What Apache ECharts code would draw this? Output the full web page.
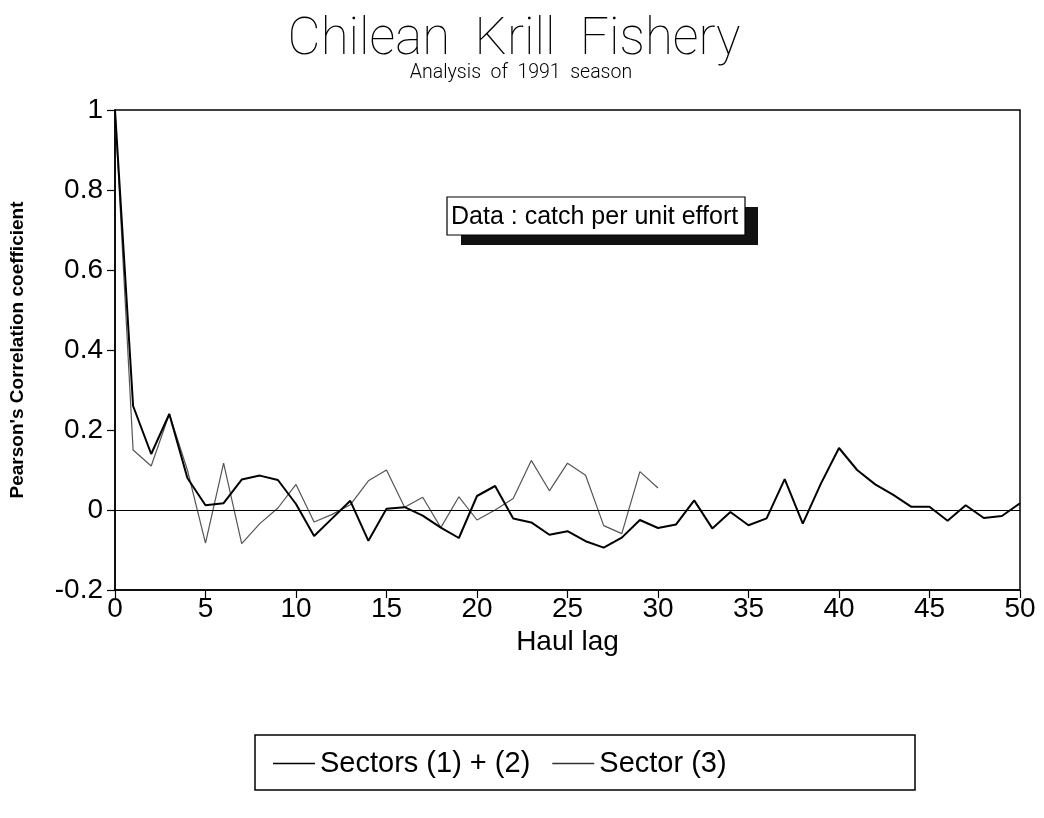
<!DOCTYPE html>
<html>
<head>
<meta charset="utf-8">
<script src="https://cdn.jsdelivr.net/npm/echarts@6/dist/echarts.min.js"></script>
<style>html,body{margin:0;padding:0;background:#fff}#c{width:1044px;height:818px}</style>
</head>
<body>
<div id="c"></div>
<script>
const lags = [0,1,2,3,4,5,6,7,8,9,10,11,12,13,14,15,16,17,18,19,20,21,22,23,24,25,26,27,28,29,30,31,32,33,34,35,36,37,38,39,40,41,42,43,44,45,46,47,48,49,50];
const sectors12 = [1.0,0.26,0.14,0.24,0.08,0.012,0.017,0.076,0.086,0.075,0.015,-0.065,-0.021,0.023,-0.077,0.003,0.007,-0.014,-0.044,-0.07,0.035,0.06,-0.021,-0.031,-0.062,-0.053,-0.078,-0.094,-0.069,-0.025,-0.045,-0.036,0.024,-0.046,-0.005,-0.038,-0.021,0.077,-0.034,0.066,0.155,0.1,0.064,0.038,0.008,0.008,-0.027,0.012,-0.02,-0.015,0.017];
const sector3 = [1.0,0.15,0.11,0.24,0.1,-0.083,0.117,-0.084,-0.034,0.005,0.064,-0.03,-0.011,0.013,0.073,0.1,0.007,0.032,-0.044,0.033,-0.025,0.0,0.029,0.124,0.048,0.117,0.087,-0.039,-0.059,0.096,0.055];
const seriesNames = ['Sectors (1) + (2)', 'Sector (3)'];
const titleText = 'Chilean  Krill  Fishery';
const subtitleText = 'Analysis  of  1991  season';
const noteText = 'Data : catch per unit effort';

const chart = echarts.init(document.getElementById('c'), null, {renderer: 'canvas'});
const pairs = (vals) => vals.map((v, i) => [lags[i], v]);
const FONT = 'Liberation Sans, Arial, Helvetica, sans-serif';

chart.setOption({
  animation: false,
  backgroundColor: '#fff',
  title: [
    {
      text: titleText, left: 509, textAlign: 'center', top: 11,
      textStyle: {fontFamily: 'Roboto', fontWeight: 100, fontSize: 51, color: '#000'}
    },
    {
      text: subtitleText, left: 516, textAlign: 'center', top: 58,
      textStyle: {fontFamily: 'Roboto', fontWeight: 300, fontSize: 19.5, color: '#000'}
    }
  ],
  grid: {left: 115, right: 24, top: 110, bottom: 228, show: true, borderColor: '#000', borderWidth: 1.5, backgroundColor: 'transparent'},
  xAxis: {
    type: 'value', min: 0, max: 50, interval: 5,
    name: 'Haul lag', nameLocation: 'middle', nameGap: 27,
    nameTextStyle: {fontFamily: FONT, fontSize: 28, color: '#000'},
    axisLine: {show: true, onZero: false, lineStyle: {color: '#000', width: 1.5}},
    axisTick: {show: true, inside: false, length: 8, lineStyle: {color: '#000', width: 1.2}},
    axisLabel: {fontFamily: FONT, fontSize: 28, color: '#000', margin: 5},
    splitLine: {show: false}
  },
  yAxis: {
    type: 'value', min: -0.2, max: 1, interval: 0.2,
    name: "Pearson's Correlation coefficient", nameLocation: 'middle', nameGap: 88, nameRotate: 90,
    nameTextStyle: {fontFamily: FONT, fontSize: 19, fontWeight: 'bold', color: '#000'},
    axisLine: {show: true, onZero: false, lineStyle: {color: '#000', width: 1.5}},
    axisTick: {show: true, inside: false, length: 8, lineStyle: {color: '#000', width: 1.2}},
    axisLabel: {fontFamily: FONT, fontSize: 28, color: '#000', margin: 12,
      formatter: v => String(Math.round(v * 10) / 10)},
    splitLine: {show: false}
  },
  legend: {
    left: 268, top: 744, itemGap: 22, itemWidth: 42, itemHeight: 1.5, icon: 'rect',
    textStyle: {fontFamily: FONT, fontSize: 29, color: '#000'},
    data: seriesNames
  },
  graphic: [
    {type: 'rect', shape: {x: 255, y: 735, width: 660, height: 55}, style: {fill: 'none', stroke: '#000', lineWidth: 1.5}, z: -1},
    {type: 'rect', shape: {x: 461, y: 207, width: 297, height: 38}, style: {fill: '#111'}, z: 10},
    {type: 'rect', shape: {x: 447, y: 197, width: 298, height: 38}, style: {fill: '#fff', stroke: '#000', lineWidth: 1.2}, z: 11},
    {type: 'text', x: 451, y: 217, style: {text: noteText, font: '25px ' + FONT, fill: '#000', align: 'left', verticalAlign: 'middle'}, z: 12}
  ],
  series: [
    {
      name: seriesNames[0], type: 'line', data: pairs(sectors12), symbol: 'none',
      lineStyle: {color: '#000', width: 2}, itemStyle: {color: '#000'}, z: 3,
      markLine: {silent: true, symbol: 'none', label: {show: false}, lineStyle: {color: '#000', width: 1.2, type: 'solid'}, data: [{yAxis: 0}]}
    },
    {
      name: seriesNames[1], type: 'line', data: pairs(sector3), symbol: 'none',
      lineStyle: {color: '#555', width: 1.2}, itemStyle: {color: '#333'}, z: 2
    }
  ]
});
</script>
</body>
</html>
